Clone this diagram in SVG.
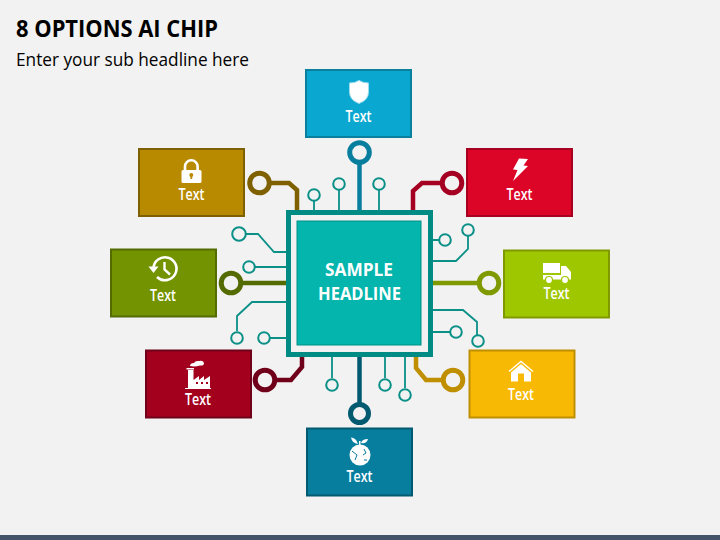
<svg xmlns="http://www.w3.org/2000/svg" width="720" height="540" viewBox="0 0 720 540">
<style>
text{font-family:"Open Sans","Noto Sans","Liberation Sans",sans-serif}
.lbl{fill:#fff;font-size:15.5px;font-weight:600;text-anchor:middle}
.head{fill:#fff;font-size:18.5px;font-weight:700;text-anchor:middle}
.box{stroke-width:2}
.w{fill:#fff}
.thin{fill:none;stroke:#0b9088;stroke-width:1.8}
.dot{fill:#f2f2f2;stroke:#0b9088;stroke-width:2}
.thick{fill:none;stroke-width:4.5}
.ring{fill:#f2f2f2;stroke-width:5}
</style>
<rect width="720" height="540" fill="#f2f2f2"/>
<rect y="535" width="720" height="5" fill="#44546a"/>
<text x="16" y="36.500" font-size="23.500" font-weight="700" fill="#000" textLength="202" lengthAdjust="spacingAndGlyphs">8 OPTIONS AI CHIP</text>
<text x="16" y="65.500" font-size="18.500" fill="#000" textLength="233" lengthAdjust="spacingAndGlyphs">Enter your sub headline here</text>
<g id="connectors">
<path class="thin" d="M314 201V210M339 190V210M379 190V210M246 234H258L274 252H287M255 267H287M237 331V316L252 302H287M270 338H287M433 240H439M468 236V249L456 261H433M433 310H463L477 322V335M433 332H450M332 357V378M385 357V378M405 357V388"/>
<circle class="dot" cx="314" cy="195" r="5.800"/><circle class="dot" cx="339" cy="184" r="5.800"/><circle class="dot" cx="379" cy="184" r="5.800"/>
<circle class="dot" cx="239" cy="234" r="6.800"/><circle class="dot" cx="249" cy="267" r="5.800"/><circle class="dot" cx="237" cy="338" r="5.800"/><circle class="dot" cx="264" cy="338" r="5.800"/>
<circle class="dot" cx="445" cy="240" r="5.800"/><circle class="dot" cx="468" cy="230" r="5.800"/><circle class="dot" cx="456" cy="332" r="5.800"/><circle class="dot" cx="478" cy="341" r="5.800"/>
<circle class="dot" cx="332" cy="385" r="5.800"/><circle class="dot" cx="385" cy="385" r="5.800"/><circle class="dot" cx="405" cy="395" r="5.800"/>
<path class="thick" stroke="#087e9f" d="M359.500 163V210"/><circle class="ring" stroke="#087e9f" cx="359.500" cy="152.500" r="9.800"/>
<path class="thick" stroke="#7f6000" d="M270 183H289L297 190V210"/><circle class="ring" stroke="#7f6000" cx="259.500" cy="183" r="9.800"/>
<path class="thick" stroke="#a50021" d="M441 183H422L413 191V210"/><circle class="ring" stroke="#a50021" cx="452" cy="183" r="9.800"/>
<path class="thick" stroke="#536b00" d="M242 283H287"/><circle class="ring" stroke="#536b00" cx="231" cy="283" r="9.800"/>
<path class="thick" stroke="#7f9a00" d="M433 283H478"/><circle class="ring" stroke="#7f9a00" cx="489" cy="283" r="9.800"/>
<path class="thick" stroke="#70001a" d="M276 380H291L302 367V357"/><circle class="ring" stroke="#70001a" cx="265" cy="380" r="9.800"/>
<path class="thick" stroke="#bf8f00" d="M442 380H426L416 368V357"/><circle class="ring" stroke="#bf8f00" cx="453" cy="380" r="9.800"/>
<path class="thick" stroke="#015a70" d="M359.500 357V403"/><circle class="ring" stroke="#015a70" cx="359.500" cy="413.500" r="9"/>
</g>
<g id="chip">
<rect x="288.500" y="212.500" width="142" height="142" fill="#f2f2f2" stroke="#008b84" stroke-width="5"/>
<rect x="297" y="221" width="124" height="124" fill="#03b5ac" stroke="#008f88"/>
<text class="head" x="359" y="275.500" textLength="68" lengthAdjust="spacingAndGlyphs">SAMPLE</text>
<text class="head" x="359.500" y="299.500" textLength="83" lengthAdjust="spacingAndGlyphs">HEADLINE</text>
</g>
<g id="node-top">
<rect class="box" x="306" y="70" width="105" height="67" fill="#0aa8d0" stroke="#08809e"/>
<path d="M349.500 83Q355 83 359 80.500Q363 83 368.500 83V92Q368.500 100 359 103.500Q349.500 100 349.500 92Z" fill="#fff" stroke="#9fdcee"/>
<text class="lbl" x="358.500" y="122" textLength="26" lengthAdjust="spacingAndGlyphs">Text</text>
</g>
<g id="node-gold">
<rect class="box" x="139" y="149" width="105" height="67" fill="#b88a00" stroke="#7f6000"/>
<path class="w" d="M183 170H200a1.500 1.500 0 0 1 1.500 1.500V181.500a1.500 1.500 0 0 1-1.500 1.500H183a1.500 1.500 0 0 1-1.500-1.500V171.500a1.500 1.500 0 0 1 1.500-1.500Z"/>
<path d="M185 171V166.500a6.300 6.300 0 0 1 12.600 0V171" fill="none" stroke="#fff" stroke-width="2.600"/>
<circle cx="191.300" cy="175" r="2" fill="#b88a00"/><rect x="190.400" y="175" width="1.800" height="4" fill="#b88a00"/>
<text class="lbl" x="191.500" y="199.500" textLength="26" lengthAdjust="spacingAndGlyphs">Text</text>
</g>
<g id="node-red">
<rect class="box" x="467" y="149" width="105" height="67" fill="#dc0528" stroke="#a80020"/>
<path class="w" d="M519 158.500L528 159L523.500 165.500L528 166L513 181L517.500 170L513 169.500Z"/>
<text class="lbl" x="519.500" y="199.500" textLength="26" lengthAdjust="spacingAndGlyphs">Text</text>
</g>
<g id="node-olive">
<rect class="box" x="111" y="249.500" width="105" height="67" fill="#739300" stroke="#536b00"/>
<path d="M153.500 268.500A11.500 11.500 0 1 1 157 277" fill="none" stroke="#fff" stroke-width="2.600"/>
<path class="w" d="M148.500 266.500L158.500 266.500L153.500 273Z"/>
<path d="M164.500 262V269.500L170 274.500" fill="none" stroke="#fff" stroke-width="2.400"/>
<text class="lbl" x="163" y="300.500" textLength="26" lengthAdjust="spacingAndGlyphs">Text</text>
</g>
<g id="node-lime">
<rect class="box" x="504" y="250.500" width="105" height="67" fill="#9fc700" stroke="#7f9a00"/>
<path class="w" d="M543 263H560V273H543ZM561 266H566L571 272V279.500H543V275H561Z"/>
<circle cx="549" cy="280" r="3.500" fill="#fff" stroke="#9fc700" stroke-width="1.200"/>
<circle cx="565" cy="280" r="3.500" fill="#fff" stroke="#9fc700" stroke-width="1.200"/>
<text class="lbl" x="556.500" y="298.500" textLength="26" lengthAdjust="spacingAndGlyphs">Text</text>
</g>
<g id="node-crimson">
<rect class="box" x="146" y="350.500" width="105" height="67" fill="#a2001d" stroke="#70001a"/>
<path class="w" d="M185 388V389H211V388H210V376L204 380V376L199 380V376L193.500 380V370H188V388ZM186.500 368H194V369.500H186.500Z"/>
<path class="w" d="M190 366Q190 363 194 363Q195 360.500 199 361Q203 360 204 363Q204 366 200 365.500Q195 367 190 366Z"/>
<rect x="196" y="382" width="2" height="2" fill="#a2001d"/><rect x="201" y="382" width="2" height="2" fill="#a2001d"/><rect x="206" y="382" width="2" height="2" fill="#a2001d"/>
<text class="lbl" x="198" y="404.500" textLength="26" lengthAdjust="spacingAndGlyphs">Text</text>
</g>
<g id="node-yellow">
<rect class="box" x="469.500" y="350.500" width="105" height="67" fill="#f8b905" stroke="#bf8f00"/>
<path class="w" d="M521 364L531 372.500V381.500H524V373.500H518V381.500H511V372.500Z"/>
<path d="M509 371.500L521 361.500L533 371.500" fill="none" stroke="#fff" stroke-width="1.400"/>
<text class="lbl" x="521" y="399.500" textLength="26" lengthAdjust="spacingAndGlyphs">Text</text>
</g>
<g id="node-blue">
<rect class="box" x="307" y="428.500" width="105" height="67" fill="#087e9f" stroke="#015a70"/>
<circle class="w" cx="360" cy="455" r="10.500"/>
<path class="w" d="M358 444Q356 437.500 351 437.500Q352 443 358 444ZM361 443Q362 439 368 439Q367 444 361 443ZM359 445V441H360.500V445Z"/>
<path d="M352 451L357 455L355 460M364 449L366 453L363 455M364 460h3" fill="none" stroke="#087e9f" stroke-width="1"/>
<text class="lbl" x="359.500" y="482" textLength="26" lengthAdjust="spacingAndGlyphs">Text</text>
</g>
</svg>
